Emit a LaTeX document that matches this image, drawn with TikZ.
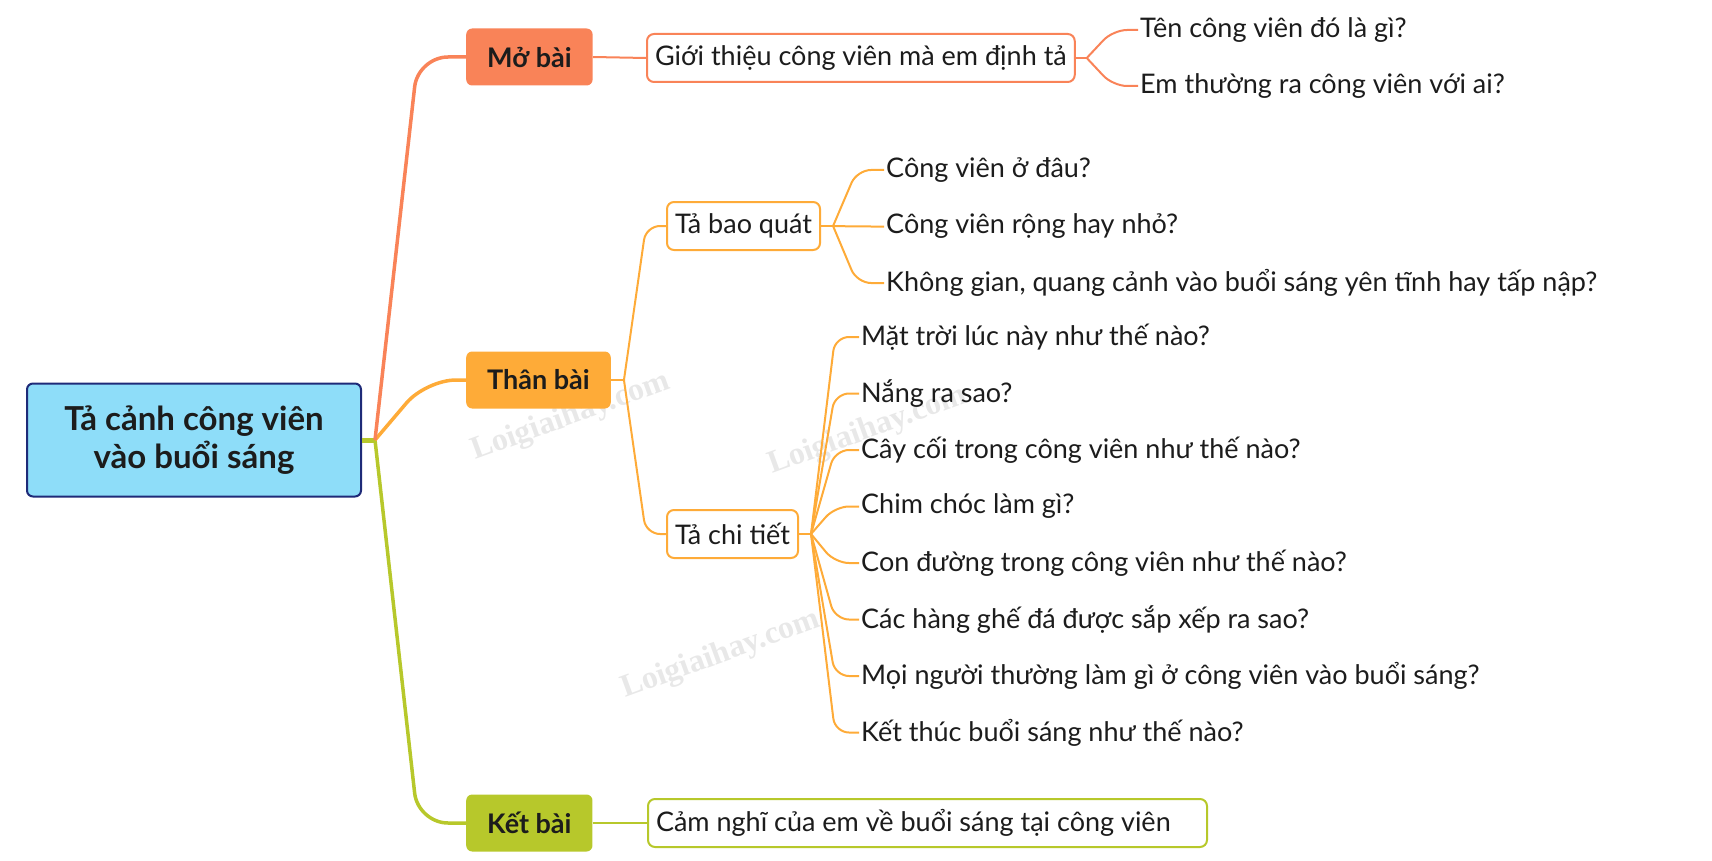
\documentclass[tikz,border=0pt]{standalone}
\usepackage{fontspec}
\setmainfont{Lato}
\newfontfamily\wmfont{Liberation Serif}

\definecolor{rootfill}{HTML}{8EDDF9}
\definecolor{rootline}{HTML}{1E2A78}
\definecolor{mocolor}{HTML}{F98358}
\definecolor{thancolor}{HTML}{FEAB38}
\definecolor{ketcolor}{HTML}{B7C82B}
\definecolor{inkcolor}{HTML}{1C1C1C}

\tikzset{
    rootbox/.style={draw=rootline, fill=rootfill, line width=2pt, rounded corners=6pt,
        minimum width=334pt, minimum height=113pt, align=center, text=inkcolor,
        font=\fontsize{33}{38}\selectfont\bfseries},
    partbox/.style={fill=#1, rounded corners=6pt, minimum height=57pt, inner xsep=21pt,
        text=inkcolor, font=\fontsize{27}{30}\selectfont\bfseries},
    subbox/.style={draw=#1, fill=white, line width=2pt, rounded corners=7pt,
        minimum height=48pt, inner xsep=8pt, text=inkcolor, font=\fontsize{27}{30}\selectfont},
    leaf/.style={anchor=west, inner xsep=2pt, inner ysep=0pt, text=inkcolor,
        font=\fontsize{27}{30}\selectfont},
    branch/.style={draw=#1, line width=3.5pt, rounded corners=30pt},
    twig/.style={draw=#1, line width=2pt, rounded corners=14pt},
    watermark/.style={text=black!9, rotate=20, font=\wmfont\fontsize{32}{36}\selectfont\bfseries}
}

\begin{document}
\begin{tikzpicture}[x=1pt, y=-1pt]
    \useasboundingbox (0,0) rectangle (1712,861);

    % watermarks
    \node[watermark] (wmA) at (571,417) {Loigiaihay.com};
    \node[watermark] (wmB) at (868,431) {Loigiaihay.com};
    \node[watermark] (wmC) at (721,655) {Loigiaihay.com};

    % main topic and parts
    \node[rootbox] (root) at (194,440) {Tả cảnh công viên\\vào buổi sáng};
    \node[partbox=mocolor, anchor=west] (mo) at (466,57) {Mở bài};
    \node[partbox=thancolor, anchor=west] (than) at (466,380) {Thân bài};
    \node[partbox=ketcolor, anchor=west] (ket) at (466,823) {Kết bài};

    \coordinate (rootJ) at ([xshift=13pt]root.east);
    \draw[ketcolor, line width=5pt] (root.east) -- (rootJ);
    \draw[branch=ketcolor] (rootJ) -- ([xshift=-48pt]ket.west) -- (ket.west);
    \draw[branch=thancolor] (rootJ) -- ([xshift=-40pt]than.west) -- (than.west);
    \draw[branch=mocolor] (rootJ) -- ([xshift=-48pt]mo.west) -- (mo.west);

    % Mo bai
    \node[subbox=mocolor, anchor=west] (gioithieu) at (646,58) {Giới thiệu công viên mà em định tả};
    \draw[twig=mocolor] (mo.east) -- (gioithieu.west);
    \coordinate (gioithieuJ) at ([xshift=11pt]gioithieu.east);
    \draw[twig=mocolor] (gioithieu.east) -- (gioithieuJ);
    \foreach \txt [count=\i from 0] in {Tên công viên đó là gì?, Em thường ra công viên với ai?}
    {
        \node[leaf] (mo\i) at (1138, {30+\i*56}) {\txt};
        \draw[twig=mocolor] (gioithieuJ) -- ([xshift=-25pt]mo\i.west) -- (mo\i.west);
    }

    % Than bai
    \node[subbox=thancolor, anchor=west] (baoquat) at (666,226) {Tả bao quát};
    \node[subbox=thancolor, anchor=west] (chitiet) at (666,534) {Tả chi tiết};
    \coordinate (thanJ) at ([xshift=13pt]than.east);
    \draw[twig=thancolor] (than.east) -- (thanJ);
    \draw[twig=thancolor] (thanJ) -- ([xshift=-20pt]baoquat.west) -- (baoquat.west);
    \draw[twig=thancolor] (thanJ) -- ([xshift=-20pt]chitiet.west) -- (chitiet.west);

    \coordinate (baoquatJ) at ([xshift=12pt]baoquat.east);
    \draw[twig=thancolor] (baoquat.east) -- (baoquatJ);
    \foreach \txt [count=\i from 0] in {Công viên ở đâu?, Công viên rộng hay nhỏ?,
        {Không gian, quang cảnh vào buổi sáng yên tĩnh hay tấp nập?}}
    {
        \node[leaf] (baoquat\i) at (884, {170+\i*56.5}) {\txt};
        \draw[twig=thancolor] (baoquatJ) -- ([xshift=-27pt]baoquat\i.west) -- (baoquat\i.west);
    }

    \coordinate (chitietJ) at ([xshift=12pt]chitiet.east);
    \draw[twig=thancolor] (chitiet.east) -- (chitietJ);
    \foreach \txt [count=\i from 0] in {Mặt trời lúc này như thế nào?, Nắng ra sao?,
        Cây cối trong công viên như thế nào?, Chim chóc làm gì?,
        Con đường trong công viên như thế nào?, Các hàng ghế đá được sắp xếp ra sao?,
        Mọi người thường làm gì ở công viên vào buổi sáng?, Kết thúc buổi sáng như thế nào?}
    {
        \node[leaf] (chitiet\i) at (859, {337+\i*56.5}) {\txt};
        \draw[twig=thancolor] (chitietJ) -- ([xshift=-24pt]chitiet\i.west) -- (chitiet\i.west);
    }

    % Ket bai
    \node[subbox=ketcolor, anchor=west, text width=543pt, align=flush left] (camnghi) at (647,823)
        {Cảm nghĩ của em về buổi sáng tại công viên};
    \draw[twig=ketcolor] (ket.east) -- (camnghi.west);
\end{tikzpicture}
\end{document}
